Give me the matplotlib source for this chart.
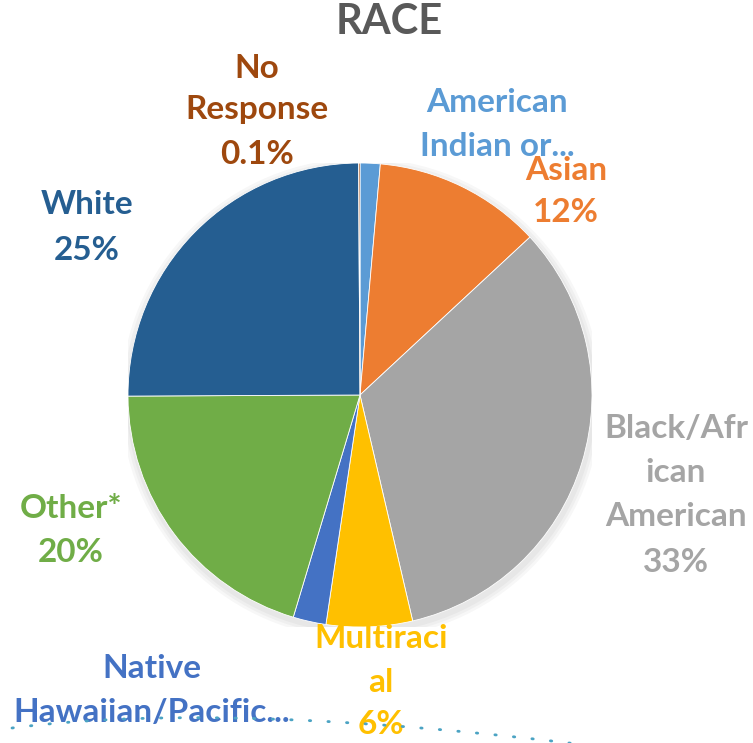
import matplotlib
matplotlib.use("Agg")
import matplotlib.pyplot as plt
import numpy as np
from matplotlib.lines import Line2D
from matplotlib.patches import Circle

plt.rcParams['font.family'] = ['Lato', 'DejaVu Sans']

categories = ["American Indian or...", "Asian", "Black/African American", "Multiracial",
              "Native Hawaiian/Pacific...", "Other*", "White", "No Response"]
values = [1.4, 11.7, 33.3, 6.0, 2.3, 20.3, 25.0, 0.1]
pct_labels = ["", "12%", "33%", "6%", "", "20%", "25%", "0.1%"]
colors = ["#5B9BD5", "#ED7D31", "#A5A5A5", "#FFC000", "#4472C4", "#70AD47", "#255E91", "#9E480E"]

W, H = 753, 743
fig = plt.figure(figsize=(W / 100, H / 100), dpi=100)
cx, cy, R = 360, 395, 232
ax = fig.add_axes([(cx - R) / W, (H - cy - R) / H, 2 * R / W, 2 * R / H])
ax.set_xlim(-1, 1)
ax.set_ylim(-1, 1)
ax.set_aspect('equal')
ax.axis('off')

# faint shadow
for i, a in enumerate([0.03, 0.03, 0.03]):
    ax.add_patch(Circle((0.005, -0.015), 1.0 + 0.012 * (i + 1), color='black', alpha=a, zorder=0, lw=0))

ax.pie(values, colors=colors, startangle=90, counterclock=False, radius=1.0,
       wedgeprops=dict(edgecolor='white', linewidth=0.6))
ax.set_xlim(-1, 1)
ax.set_ylim(-1, 1)

def to_data(px, py):
    return (px - cx) / R, (cy - py) / R

# dotted leader line (decorative curve under the bottom labels)
p0, p1, p2 = np.array([12, 728.0]), np.array([230, 700.0]), np.array([610, 748.0])
t = np.linspace(0, 1, 200)[:, None]
curve = (1 - t) ** 2 * p0 + 2 * (1 - t) * t * p1 + t ** 2 * p2
lx, ly = to_data(curve[:, 0], curve[:, 1])
ax.add_line(Line2D(lx, ly, color='#4BA3C3', linestyle=(0, (0.5, 6.2)), linewidth=2.0,
                   dash_capstyle='round', clip_on=False, zorder=6))

fs = 24
label_specs = [
    (0, ["American", "Indian or..."], 497, [103, 147]),
    (1, ["Asian", "12%"], 566, [170, 213]),
    (2, ["Black/Afr", "ican", "American", "33%"], 676, [428, 472, 517, 562]),
    (3, ["Multiraci", "al", "6%"], 381, [638, 683, 725]),
    (4, ["Native", "Hawaiian/Pacific..."], 152, [668, 713]),
    (5, ["Other*", "20%"], 71, [508, 553]),
    (6, ["White", "25%"], 87, [205, 250]),
    (7, ["No", "Response", "0.1%"], 257, [68, 110, 155]),
]
for idx, lines, px, pys in label_specs:
    for line, py in zip(lines, pys):
        x, y = to_data(px, py)
        ax.text(x, y, line, ha='center', va='center', fontsize=fs, fontweight='bold',
                color=colors[idx], clip_on=False, zorder=5)

fig.text(389 / W, 1 - 22 / H, "RACE", ha='center', va='center', fontsize=30,
         fontweight='bold', color='#595959')

fig.savefig("out.png", dpi=100)
